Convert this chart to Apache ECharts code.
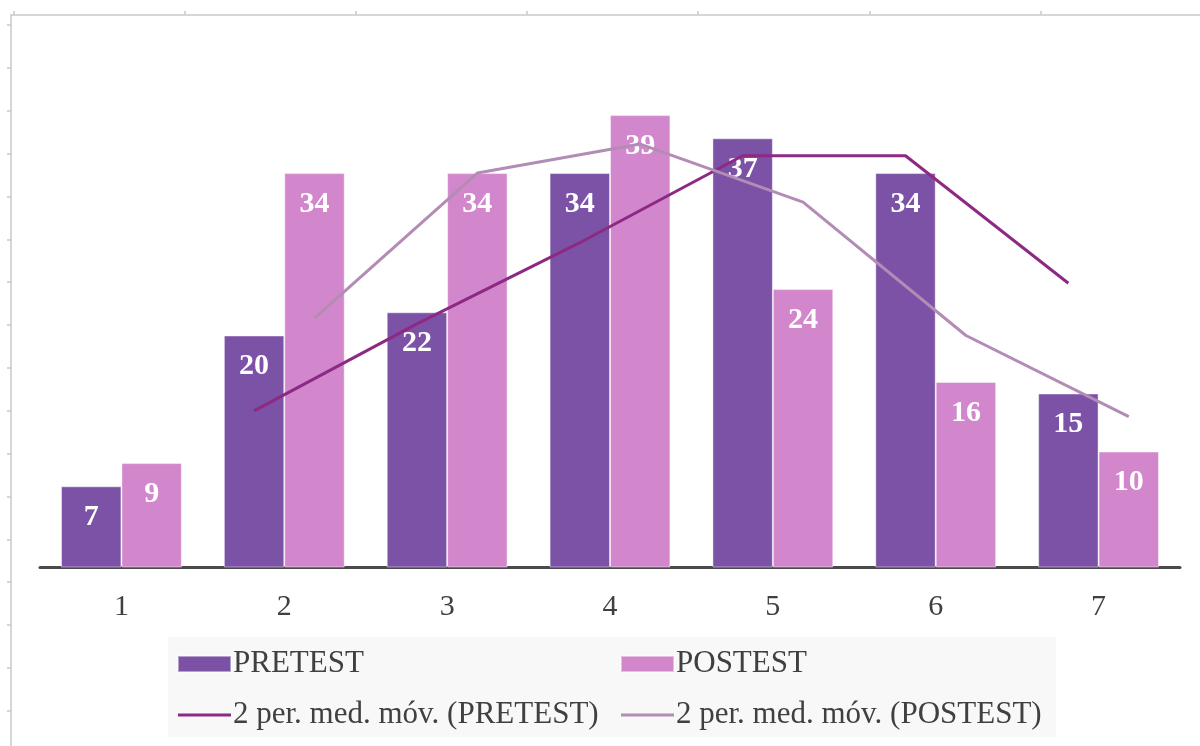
<!DOCTYPE html>
<html>
<head>
<meta charset="utf-8">
<script src="https://cdn.jsdelivr.net/npm/echarts@6/dist/echarts.min.js"></script>
<style>
  html, body { margin: 0; padding: 0; background: #ffffff; }
  #chart { width: 1200px; height: 746px; }
</style>
</head>
<body>
<div id="chart"></div>
<script>
// Score groups and counts for each test
const categories = ['1', '2', '3', '4', '5', '6', '7'];
const pretest = [7, 20, 22, 34, 37, 34, 15];
const postest = [9, 34, 34, 39, 24, 16, 10];
// 2-period moving averages (first period has no value)
const maPretest = [null, 13.5, 21, 28, 35.5, 35.5, 24.5];
const maPostest = [null, 21.5, 34, 36.5, 31.5, 20, 13];

const seriesNames = ['PRETEST', 'POSTEST', '2 per. med. móv. (PRETEST)', '2 per. med. móv. (POSTEST)'];

const COLORS = {
  pre: '#7b52a6',
  post: '#d287cc',
  preLine: '#8c2a83',
  postLine: '#b38cb6',
  text: '#404040',
  frame: '#c9c9c9'
};

const FONT = 'Liberation Serif';
const barCategoryGap = 0.258;
// each trend line sits on the centre of its own bar within the group
const barOffset = (1 - barCategoryGap) / 4;

// legend icon for the trend lines: a 3px stroke centred in a 53x16 box
const lineIcon = 'path://M0,0L53,0L53,0.01Z M0,6.5L53,6.5L53,9.5L0,9.5Z M0,16L53,16L53,16.01Z';

function toPoints(values, shift) {
  return values.map((v, i) => [i + shift, v]);
}

// outer frame tick positions (pixels along the frame edges)
const frameW = 1189, frameH = 731;
const frameXTicks = [];
for (let x = 2.3; x <= frameW; x += 171.2) frameXTicks.push(x);
const frameYTicks = [];
for (let y = 10; y <= frameH; y += 42.86) frameYTicks.push(y);

const chart = echarts.init(document.getElementById('chart'), null, { renderer: 'canvas' });

const legendText = { color: COLORS.text, fontSize: 31, fontFamily: FONT, lineHeight: 34, padding: [0, 0, 0, -3] };

const option = {
  backgroundColor: '#ffffff',
  animation: false,
  textStyle: { fontFamily: FONT },
  graphic: [{
    type: 'rect',
    z: -10,
    silent: true,
    shape: { x: 168, y: 637, width: 888, height: 100 },
    style: { fill: '#f8f8f8' }
  }],
  grid: [
    { left: 40, right: 20, top: 45.5, bottom: 178.5 },
    { left: 11, top: 15, width: frameW, height: frameH }
  ],
  xAxis: [
    {
      type: 'category',
      gridIndex: 0,
      data: categories,
      axisLine: { show: true, lineStyle: { color: '#4a4a4a', width: 3 } },
      axisTick: { show: false },
      axisLabel: { color: COLORS.text, fontSize: 30, fontFamily: FONT, margin: 25 },
      splitLine: { show: false }
    },
    {
      type: 'value',
      gridIndex: 0,
      min: -0.5,
      max: categories.length - 0.5,
      show: false
    },
    {
      type: 'value',
      gridIndex: 1,
      position: 'top',
      min: 0,
      max: frameW,
      axisLine: { show: true, lineStyle: { color: COLORS.frame, width: 1.5 } },
      axisTick: { show: true, customValues: frameXTicks, length: 4, lineStyle: { color: COLORS.frame, width: 1.5 } },
      axisLabel: { show: false },
      splitLine: { show: false }
    }
  ],
  yAxis: [
    {
      type: 'value',
      gridIndex: 0,
      min: 0,
      max: 45,
      show: false,
      splitLine: { show: false }
    },
    {
      type: 'value',
      gridIndex: 1,
      inverse: true,
      position: 'left',
      min: 0,
      max: frameH,
      axisLine: { show: true, lineStyle: { color: COLORS.frame, width: 1.5 } },
      axisTick: { show: true, customValues: frameYTicks, length: 4, lineStyle: { color: COLORS.frame, width: 1.5 } },
      axisLabel: { show: false },
      splitLine: { show: false }
    }
  ],
  legend: [
    {
      orient: 'vertical',
      left: 177,
      top: 647,
      padding: 0,
      itemGap: 17,
      itemWidth: 53,
      itemHeight: 16,
      data: [
        { name: seriesNames[0], icon: 'rect' },
        { name: seriesNames[2], icon: lineIcon }
      ],
      textStyle: legendText
    },
    {
      orient: 'vertical',
      left: 620,
      top: 647,
      padding: 0,
      itemGap: 17,
      itemWidth: 53,
      itemHeight: 16,
      data: [
        { name: seriesNames[1], icon: 'rect' },
        { name: seriesNames[3], icon: lineIcon }
      ],
      textStyle: legendText
    }
  ],
  series: [
    {
      name: seriesNames[0],
      type: 'bar',
      xAxisIndex: 0,
      yAxisIndex: 0,
      data: pretest,
      barGap: '0%',
      barCategoryGap: (barCategoryGap * 100) + '%',
      z: 2,
      itemStyle: { color: COLORS.pre, borderColor: 'rgba(255,255,255,0.45)', borderWidth: 1 },
      label: {
        show: true,
        position: 'insideTop',
        distance: 16,
        color: '#ffffff',
        fontSize: 30,
        fontWeight: 'bold',
        fontFamily: FONT
      }
    },
    {
      name: seriesNames[1],
      type: 'bar',
      xAxisIndex: 0,
      yAxisIndex: 0,
      data: postest,
      barGap: '0%',
      barCategoryGap: (barCategoryGap * 100) + '%',
      z: 2,
      itemStyle: { color: COLORS.post, borderColor: 'rgba(255,255,255,0.45)', borderWidth: 1 },
      label: {
        show: true,
        position: 'insideTop',
        distance: 16,
        color: '#ffffff',
        fontSize: 30,
        fontWeight: 'bold',
        fontFamily: FONT
      }
    },
    {
      name: seriesNames[2],
      type: 'line',
      xAxisIndex: 1,
      yAxisIndex: 0,
      data: toPoints(maPretest, -barOffset),
      symbol: 'none',
      z: 5,
      lineStyle: { color: COLORS.preLine, width: 3 },
      itemStyle: { color: COLORS.preLine }
    },
    {
      name: seriesNames[3],
      type: 'line',
      xAxisIndex: 1,
      yAxisIndex: 0,
      data: toPoints(maPostest, barOffset),
      symbol: 'none',
      z: 5,
      lineStyle: { color: COLORS.postLine, width: 3 },
      itemStyle: { color: COLORS.postLine }
    }
  ]
};

chart.setOption(option);
</script>
</body>
</html>
